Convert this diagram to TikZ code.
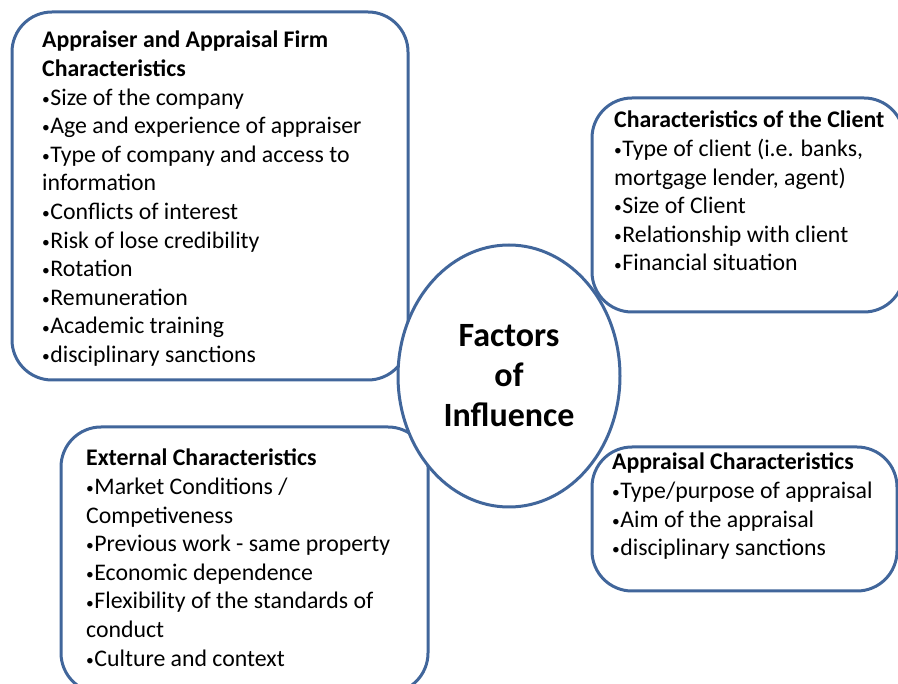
\documentclass[tikz,border=0pt]{standalone}
\usepackage{fontspec}
\setmainfont{Carlito}
\usepackage{tikz}
\usetikzlibrary{positioning,shapes.geometric}
\definecolor{frameblue}{HTML}{41669B}
\definecolor{darktext}{HTML}{000000}
% small list bullet
\newcommand{\bul}{\raisebox{0.8pt}{\fontsize{15.5}{15.5}\selectfont•}\kern0.5pt}

\begin{document}
\begin{tikzpicture}[x=1pt,y=-1pt,
  group/.style={rectangle, draw=frameblue, line width=3pt, fill=white, rounded corners=40pt,
    anchor=north west, outer sep=0pt, inner sep=0pt},
  items/.style={align=left, inner sep=0pt, text=darktext, font=\fontsize{23.8}{28.6}\selectfont},
  hub/.style={ellipse, draw=frameblue, line width=3pt, fill=white, minimum width=222pt,
    minimum height=262pt, align=center, text=darktext, font=\fontsize{34}{40}\selectfont\bfseries}
]
\useasboundingbox (0,0) rectangle (898,684);
\node[group,minimum width=396pt,minimum height=368pt] (firm) at (12,12) {};
\node[group,minimum width=312pt,minimum height=214pt] (client) at (592,98) {};
\node[group,minimum width=367pt,minimum height=266pt] (external) at (61,427) {};
\node[group,minimum width=305pt,minimum height=144pt] (appraisal) at (592,447) {};
\node[hub] (factors) at (509,376) {Factors\\of\\Influence};
\node[items,below right=19pt and 30pt of firm.north west] (firmtxt)
  {\textbf{Appraiser and Appraisal Firm}\\\textbf{Characteristics}\\
   \bul Size of the company\\\bul Age and experience of appraiser\\
   \bul Type of company and access to\\information\\\bul Conflicts of interest\\
   \bul Risk of lose credibility\\\bul Rotation\\\bul Remuneration\\\bul Academic training\\
   \bul disciplinary sanctions};
\node[items,below right=13pt and 22pt of client.north west] (clienttxt)
  {\textbf{Characteristics of the Client}\\\bul Type of client (i.e. banks,\\
   mortgage lender, agent)\\\bul Size of Client\\\bul Relationship with client\\
   \bul Financial situation};
\node[items,below right=22pt and 25pt of external.north west] (externaltxt)
  {\textbf{External Characteristics}\\\bul Market Conditions /\\Competiveness\\
   \bul Previous work - same property\\\bul Economic dependence\\
   \bul Flexibility of the standards of\\conduct\\\bul Culture and context};
\node[items,below right=6pt and 20pt of appraisal.north west] (appraisaltxt)
  {\textbf{Appraisal Characteristics}\\\bul Type/purpose of appraisal\\
   \bul Aim of the appraisal\\\bul disciplinary sanctions};
\end{tikzpicture}
\end{document}
